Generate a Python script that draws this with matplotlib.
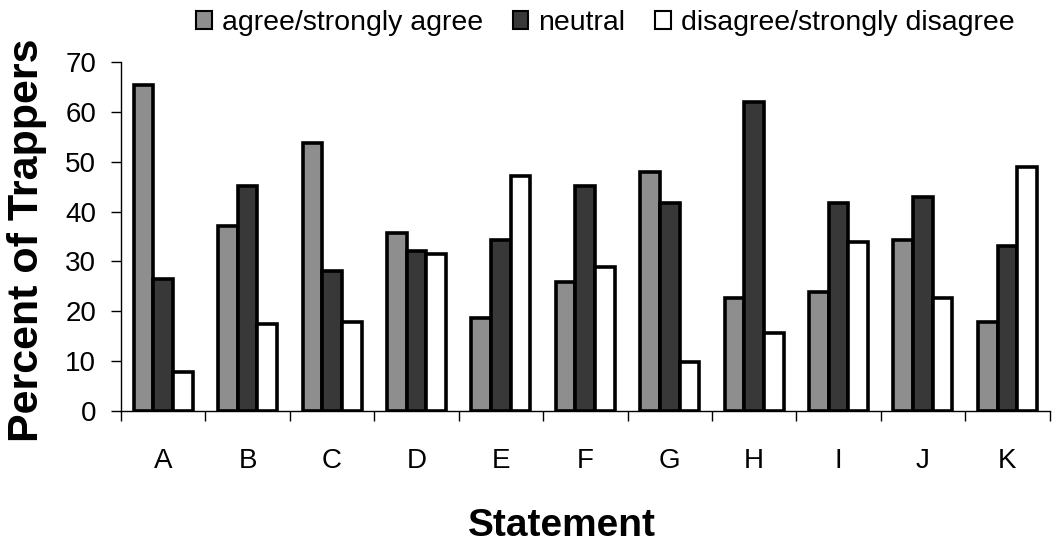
import matplotlib
matplotlib.use("Agg")
import matplotlib.pyplot as plt
import numpy as np
from matplotlib.patches import Patch

categories = ["A", "B", "C", "D", "E", "F", "G", "H", "I", "J", "K"]
agree = [65.4, 37.1, 53.8, 35.8, 18.7, 25.9, 48.0, 22.6, 23.9, 34.3, 17.8]
neutral = [26.4, 45.1, 28.1, 32.0, 34.2, 45.1, 41.8, 62.0, 41.8, 42.9, 33.0]
disagree = [7.9, 17.4, 17.9, 31.5, 47.1, 28.9, 9.9, 15.6, 33.8, 22.6, 49.0]
series_labels = ["agree/strongly agree", "neutral", "disagree/strongly disagree"]
yticks = [0, 10, 20, 30, 40, 50, 60, 70]

plt.rcParams['font.family'] = ['Liberation Sans', 'DejaVu Sans']

fig = plt.figure(figsize=(10.57, 5.42), dpi=100)
ax = fig.add_axes([0.1145, 0.2417, 0.8785, 0.6439])

x = np.arange(len(categories))
w = 0.233
colors = ["#8e8e8e", "#383838", "#ffffff"]
for off, vals, c in zip([-w, 0, w], [agree, neutral, disagree], colors):
    ax.bar(x + off, vals, width=w, color=c, edgecolor="black", linewidth=2.6, zorder=3)

ax.set_xlim(-0.5, len(categories) - 0.5)
ax.set_ylim(0, 70)
ax.set_yticks(yticks)
ax.set_yticklabels([str(t) for t in yticks], fontsize=20)
ax.set_xticks(x)
ax.set_xticklabels(categories, fontsize=20)
ax.set_xticks(np.arange(-0.5, len(categories) + 0.5, 1.0), minor=True)
ax.tick_params(axis="x", which="major", length=0, pad=27)
ax.tick_params(axis="x", which="minor", length=7, direction="out", width=1)
ax.tick_params(axis="y", length=7, direction="out", width=1, pad=11)
for s in ["top", "right"]:
    ax.spines[s].set_visible(False)
ax.spines["left"].set_linewidth(1)
ax.spines["bottom"].set_linewidth(1)

fig.text(0.026, 0.557, "Percent of Trappers", fontsize=31, fontweight="bold",
         rotation=90, ha="center", va="center")
fig.text(0.532, 0.03, "Statement", fontsize=28, fontweight="bold", ha="center", va="center")

handles = [Patch(facecolor=c, edgecolor="black", linewidth=1.5) for c in colors]
fig.legend(handles, series_labels, loc="center left", bbox_to_anchor=(0.1855, 0.958),
           ncol=3, frameon=False, fontsize=20.5, handlelength=0.55, handleheight=0.6,
           handletextpad=0.35, columnspacing=1.05, borderpad=0, borderaxespad=0)

fig.savefig("out.png", dpi=100)
